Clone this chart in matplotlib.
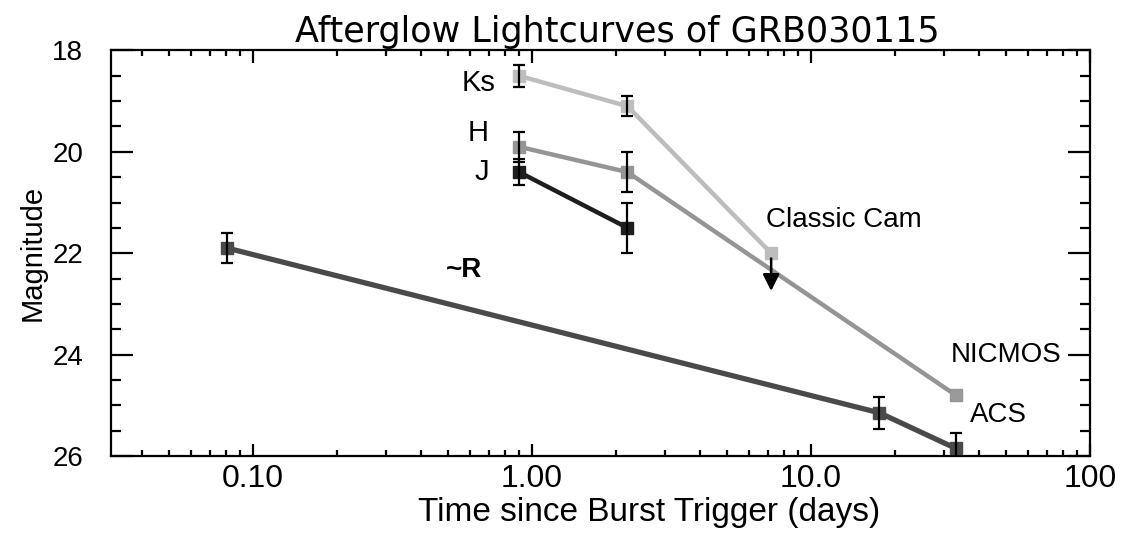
import numpy as np
import matplotlib
matplotlib.use("Agg")
import matplotlib.pyplot as plt
from matplotlib.ticker import FixedLocator, FixedFormatter, LogLocator, MultipleLocator, NullFormatter

# --- data (days, magnitude, error) ---
ks_t = [0.9, 2.2, 7.2]
ks_mag = [18.5, 19.1, 22.0]
ks_err = [0.22, 0.2, 0.0]

h_t = [0.9, 2.2, 33.0]
h_mag = [19.9, 20.4, 24.8]
h_err = [0.3, 0.4, 0.0]

j_t = [0.9, 2.2]
j_mag = [20.4, 21.5]
j_err = [0.25, 0.5]

r_t = [0.081, 17.6, 33.0]
r_mag = [21.9, 25.15, 25.85]
r_err = [0.3, 0.32, 0.3]

# upper limit arrow at the Classic Cam epoch
lim_t = 7.2
lim_mag = 22.05

xtick_vals = [0.1, 1.0, 10.0, 100.0]
xtick_labels = ["0.10", "1.00", "10.0", "100"]
ytick_vals = [18, 20, 22, 24, 26]

plt.rcParams['font.family'] = ['Liberation Sans', 'DejaVu Sans']

fig = plt.figure(figsize=(11.33, 5.37), dpi=100)
ax = fig.add_axes([0.098, 0.151, 0.864, 0.755])

def draw(t, m, e, col, lw=3.2, ms=8, marker='s'):
    ax.plot(t, m, color=col, lw=lw, zorder=2)
    ax.plot(t, m, marker=marker, ls='none', color=col, ms=ms, zorder=3)
    te = [a for a, b in zip(t, e) if b > 0]
    me = [a for a, b in zip(m, e) if b > 0]
    ee = [b for b in e if b > 0]
    ax.errorbar(te, me, yerr=ee, fmt='none', ecolor='black', elinewidth=1.6,
                capsize=4.5, capthick=1.6, zorder=4)

draw(r_t, r_mag, r_err, '#4a4a4a', lw=3.8)
draw(ks_t, ks_mag, ks_err, '#bdbdbd')
draw(h_t, h_mag, h_err, '#959595')
draw(j_t, j_mag, j_err, '#1e1e1e')
ax.plot([h_t[-1]], [h_mag[-1]], marker='o', color='#9a9a9a', ms=8, zorder=5)

ax.annotate('', xy=(lim_t, lim_mag + 0.75), xytext=(lim_t, lim_mag),
            arrowprops=dict(arrowstyle='-|>', color='black', lw=1.8,
                            mutation_scale=25), zorder=6)

ax.set_xscale('log')
ax.set_xlim(0.031, 100)
ax.set_ylim(26, 18)

ax.xaxis.set_major_locator(FixedLocator(xtick_vals))
ax.xaxis.set_major_formatter(FixedFormatter(xtick_labels))
ax.xaxis.set_minor_locator(LogLocator(base=10, subs=np.arange(2, 10)))
ax.xaxis.set_minor_formatter(NullFormatter())
ax.yaxis.set_major_locator(FixedLocator(ytick_vals))
ax.yaxis.set_minor_locator(MultipleLocator(0.5))

ax.tick_params(axis='both', which='both', direction='in', top=True, right=True,
               width=1.6, colors='black')
ax.tick_params(axis='x', which='major', length=9, pad=6, labelsize=23)
ax.tick_params(axis='x', which='minor', length=4.5)
ax.tick_params(axis='y', which='major', length=16, pad=20, labelsize=20)
ax.tick_params(axis='y', which='minor', length=7)
for s in ax.spines.values():
    s.set_linewidth(1.6)

ax.set_xlabel('Time since Burst Trigger (days)', fontsize=24, labelpad=2, x=0.55)
ax.set_ylabel('Magnitude', fontsize=21, labelpad=4)
ax.set_title('Afterglow Lightcurves of GRB030115', fontsize=25.2, pad=6,
             x=0.517, family=['DejaVu Sans'])

ax.text(0.74, 18.64, 'Ks', fontsize=21, ha='right', va='center')
ax.text(0.70, 19.62, 'H', fontsize=21, ha='right', va='center')
ax.text(0.70, 20.39, 'J', fontsize=21, ha='right', va='center')
ax.text(0.49, 22.33, '~R', fontsize=20, ha='left', va='center', fontweight='bold')
ax.text(6.9, 21.34, 'Classic Cam', fontsize=20, ha='left', va='center')
ax.text(31.6, 24.0, 'NICMOS', fontsize=20, ha='left', va='center')
ax.text(37.0, 25.19, 'ACS', fontsize=20, ha='left', va='center')

fig.savefig('out.png', dpi=100)
